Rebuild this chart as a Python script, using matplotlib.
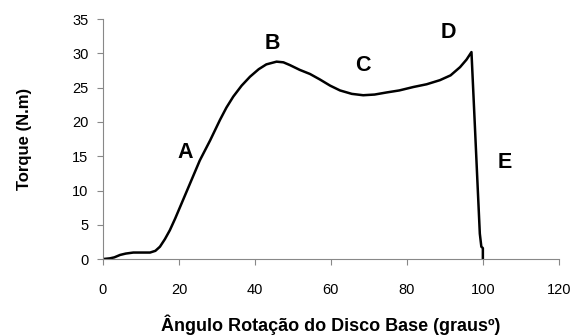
import matplotlib
matplotlib.use("Agg")
import matplotlib.pyplot as plt

# torque curve
angle = [0, 1.8, 3, 4.5, 6, 8, 10, 12.4, 13.8, 15, 16.3, 17.6, 19, 20.3, 21.6,
         22.9, 24.2, 25.5, 28.2, 30.8, 32.5, 34.3, 36.5, 38.7, 41, 43, 45.7,
         47.5, 49.2, 51.8, 54.5, 57.1, 59.8, 62.4, 65.5, 68.5, 71.5, 74.6, 78,
         81.7, 85.2, 88.7, 91.5, 94, 95.7, 97, 97.9, 98.5, 99.2, 99.6,
         100, 100]
torque = [0, 0.1, 0.25, 0.6, 0.8, 0.95, 0.95, 0.95, 1.2, 1.8, 2.9, 4.2, 5.9,
          7.6, 9.3, 11, 12.7, 14.4, 17.3, 20.3, 22.1, 23.7, 25.3, 26.6, 27.7,
          28.4, 28.8, 28.7, 28.3, 27.6, 27.0, 26.2, 25.3, 24.6, 24.1, 23.9,
          24.0, 24.3, 24.6, 25.1, 25.5, 26.1, 26.8, 28.0, 29.1, 30.2,
          19.4, 12.1, 3.7, 1.8, 1.6, 0]

point_labels = ["A", "B", "C", "D", "E"]
label_x = [21.6, 44.5, 68.4, 91, 105.8]
label_y = [15.6, 31.5, 28.3, 33, 14.1]

x_ticks = [0, 20, 40, 60, 80, 100, 120]
y_ticks = [0, 5, 10, 15, 20, 25, 30, 35]

plt.rcParams["font.family"] = ["Liberation Sans", "DejaVu Sans"]

fig = plt.figure(figsize=(5.72, 3.36), dpi=100)
ax = fig.add_axes([0.180, 0.229, 0.797, 0.714])

ax.plot(angle, torque, color="black", lw=1.8, solid_joinstyle="round")

for lab, lx, ly in zip(point_labels, label_x, label_y):
    ax.text(lx, ly, lab, fontsize=15.5, fontweight="bold", ha="center", va="center")

ax.set_xlim(0, 120)
ax.set_ylim(0, 35)
ax.set_xticks(x_ticks)
ax.set_yticks(y_ticks)
ax.tick_params(axis="both", direction="out", length=4.5, width=0.8, color="#888888",
               labelsize=10.5)
ax.tick_params(axis="x", pad=13)
ax.tick_params(axis="y", pad=6)
for side in ["top", "right"]:
    ax.spines[side].set_visible(False)
for side in ["left", "bottom"]:
    ax.spines[side].set_color("#888888")
    ax.spines[side].set_linewidth(0.8)

ax.set_xlabel("Ângulo Rotação do Disco Base (grausº)", fontsize=13,
              fontweight="bold", labelpad=12)
ax.set_ylabel("Torque (N.m)", fontsize=12, fontweight="bold", labelpad=29)

fig.savefig("out.png", dpi=100)
